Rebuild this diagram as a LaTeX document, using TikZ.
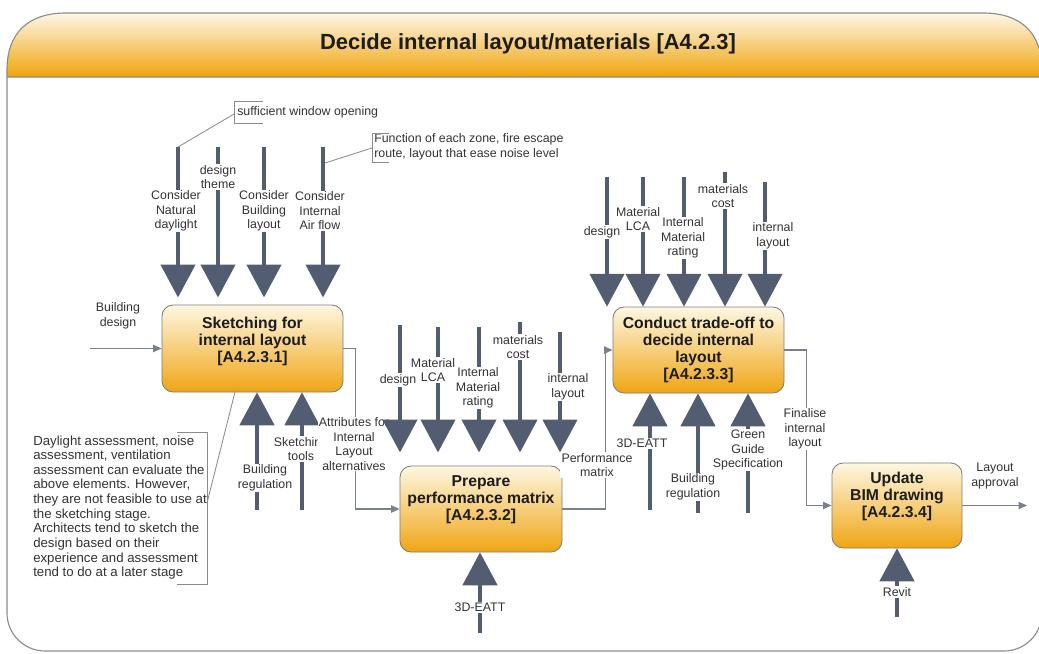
\documentclass[tikz,border=0pt]{standalone}
\usepackage{fontspec}
\setmainfont{Liberation Sans}
\usetikzlibrary{arrows.meta}

\definecolor{hdtop}{HTML}{FDF7E8}
\definecolor{hdbot}{HTML}{EFA40A}
\definecolor{boxtop}{HTML}{FEF7E2}
\definecolor{boxbot}{HTML}{EFA514}
\definecolor{boxline}{HTML}{7E7E7E}
\definecolor{framecol}{HTML}{8C8C8C}
\definecolor{icomcol}{HTML}{535D71}
\definecolor{wirecol}{HTML}{7A808E}
\definecolor{lbltext}{HTML}{333333}
\definecolor{boxtext}{HTML}{1C1C1C}

\newcommand{\lblfont}{\fontsize{8.8}{10.3}\selectfont}
\newcommand{\notefont}{\fontsize{9.4}{10.4}\selectfont}
\newcommand{\actfont}{\fontsize{11.2}{12.1}\selectfont\bfseries}
\newcommand{\ttlfont}{\fontsize{15.6}{18}\selectfont\bfseries}

\tikzset{
  frameline/.style={draw=framecol, line width=0.8pt},
  activity/.style={draw=boxline, line width=0.6pt, rounded corners=0.28cm,
    top color=boxtop, bottom color=boxbot, font=\actfont, text=boxtext,
    align=center, inner sep=0pt},
  icom/.style={draw=icomcol, line width=2.8pt,
    -{Triangle[width=0.88cm,length=0.82cm,line width=0pt]}},
  wire/.style={draw=wirecol, line width=0.8pt,
    -{Triangle[width=0.19cm,length=0.21cm,line width=0pt]}},
  lbl/.style={font=\lblfont, text=lbltext, align=center, fill=white, inner sep=0.8pt},
  callout/.style={draw=framecol, line width=0.6pt},
  notetext/.style={font=\notefont, text=lbltext, align=left, inner sep=0pt, anchor=west}
}

\begin{document}
\begin{tikzpicture}[x=0.025cm, y=-0.025cm]
  \useasboundingbox (0,0) rectangle (1039,653);

  % Frame and header
  \shadedraw[top color=hdtop, bottom color=hdbot, draw=framecol, line width=0.8pt]
    (7,77) -- (7,70) .. controls (7,33) and (28,13) .. (66,13) -- (983,13)
    .. controls (1021,13) and (1042,33) .. (1042,70) -- (1042,77) -- cycle;
  \draw[frameline, rounded corners=0.95cm] (7,77) -- (7,651) -- (1042,651) -- (1042,77);
  \node[font=\ttlfont, text=boxtext] (title) at (528,44) {Decide internal layout/materials [A4.2.3]};

  % Activities
  \node[activity, minimum width=4.525cm, minimum height=2.175cm] (a1) at (252.5,348.5)
    {Sketching for\\internal layout\\{[A4.2.3.1]}\\[0pt]\mbox{}};
  \node[activity, minimum width=4.05cm, minimum height=2.15cm] (a2) at (481,509)
    {Prepare\\performance matrix\\{[A4.2.3.2]}\\[3pt]\mbox{}};
  \node[activity, minimum width=4.275cm, minimum height=2.15cm] (a3) at (698.5,350)
    {Conduct trade-off to\\decide internal\\layout\\{[A4.2.3.3]}};
  \node[activity, minimum width=3.25cm, minimum height=2.125cm] (a4) at (897,505.5)
    {Update\\BIM drawing\\{[A4.2.3.4]}\\[3pt]\mbox{}};

  % Inputs and outputs
  \coordinate (bdin) at (90,348.5);
  \coordinate (laout) at (1027,505.5);
  \draw[wire] (bdin) -- (a1.west);
  \draw[wire] (a1.east) -- ++(12,0) |- (a2.west);
  \draw[wire] (a2.east) -- ++(43,0) |- (a3.west);
  \draw[wire] (a3.east) -- ++(22,0) |- (a4.west);
  \draw[wire] (a4.east) -- (laout);

  % Controls and mechanisms of A1, A3, A4
  \foreach \n/\x/\t in {1/178/147,2/218/147,3/264/147,4/323/147}{
    \coordinate (a1c\n) at (\x,\t);
    \draw[icom, shorten >=0.18cm] (a1c\n) -- (a1c\n |- a1.north);
  }
  \foreach \n/\x/\t in {1/257/510,2/302/510}{
    \coordinate (a1m\n) at (\x,\t);
    \draw[icom] (a1m\n) -- (a1m\n |- a1.south);
  }
  \foreach \n/\x/\t in {1/607/177,2/643/177,3/684/177,4/725/172,5/765/182}{
    \coordinate (a3c\n) at (\x,\t);
    \draw[icom] (a3c\n) -- (a3c\n |- a3.north);
  }
  \foreach \n/\x/\t in {1/650/510,2/698/513,3/748/513}{
    \coordinate (a3m\n) at (\x,\t);
    \draw[icom] (a3m\n) -- (a3m\n |- a3.south);
  }
  \coordinate (a4m1) at (897,617);
  \draw[icom] (a4m1) -- (a4m1 |- a4.south);

  % Labels
  \node[lbl] (lbd) at (118,316) {Building\\design};
  \node[lbl] (l11) at (176,211) {Consider\\Natural\\daylight};
  \node[lbl] (l12) at (218,177) {design\\theme};
  \node[lbl] (l13) at (264,211) {Consider\\Building\\layout};
  \node[lbl] (l14) at (320,211) {Consider\\Internal\\Air flow};
  \node[lbl] (lm11) at (265,478) {Building\\regulation};
  \node[lbl] (lm12) at (301,449) {Sketching\\tools};
  \node[lbl] (lattr) at (354,444) {Attributes for\\Internal\\Layout\\alternatives};
  \node[lbl] (lperf) at (597,465) {Performance\\matrix};
  \node[lbl] (l32) at (638,219) {Material\\LCA};
  \node[lbl] (l31) at (602,232) {design};
  \node[lbl] (l33) at (683,238) {Internal\\Material\\rating};
  \node[lbl] (l34) at (723,196) {materials\\cost};
  \node[lbl] (l35) at (773,236) {internal\\layout};
  \node[lbl] (lm31) at (642,443) {3D-EATT};
  \node[lbl] (lm32) at (693,487) {Building\\regulation};
  \node[lbl] (lm33) at (748,450) {Green\\Guide\\Specification};
  \node[lbl] (lfin) at (805,429) {Finalise\\internal\\layout};
  \node[lbl] (lla) at (995,476) {Layout\\approval};
  \node[lbl] (lm41) at (897,592) {Revit};

  % Controls and mechanism of A2
  \foreach \n/\x/\t in {1/400/325,2/438/327,3/479/327,4/520/322,5/560/332}{
    \coordinate (a2c\n) at (\x,\t);
    \draw[icom, shorten >=0.33cm] (a2c\n) -- (a2c\n |- a2.north);
  }
  \coordinate (a2m1) at (480,633);
  \draw[icom] (a2m1) -- (a2m1 |- a2.south);
  \node[lbl] (l22) at (433,370) {Material\\LCA};
  \node[lbl] (l21) at (398,380) {design};
  \node[lbl] (l23) at (478,388) {Internal\\Material\\rating};
  \node[lbl] (l24) at (518,347) {materials\\cost};
  \node[lbl] (l25) at (568,387) {internal\\layout};
  \node[lbl] (lm21) at (480,607) {3D-EATT};

  % Callouts
  \node[lbl, fill=none, anchor=west, inner sep=0pt] (cwin) at (237,112) {sufficient window opening};
  \draw[callout] (263,101) -- (234,101) -- (234,123) -- (263,123);
  \coordinate (cwinx) at (234,114);
  \draw[callout] (cwinx) -- (a1c1);

  \node[lbl, fill=none, anchor=west, inner sep=0pt, align=left] (cfun) at (374,147)
    {Function of each zone, fire escape\\route, layout that ease noise level};
  \draw[callout] (389,133) -- (372,133) -- (372,162) -- (389,162);
  \coordinate (cfunx) at (372,148);
  \coordinate (cfuny) at (325,163);
  \draw[callout] (cfunx) -- (cfuny);

  \node[notetext] (note) at (33,507.5) {Daylight assessment, noise\\assessment, ventilation\\assessment can evaluate the\\above elements. However,\\they are not feasible to use at\\the sketching stage.\\Architects tend to sketch the\\design based on their\\experience and assessment\\tend to do at a later stage};
  \draw[callout] (177,432) -- (207,432) -- (207,584) -- (177,584);
  \coordinate (notex) at (207,503);
  \coordinate (a1x) at (235,392);
  \draw[callout] (notex) -- (a1x);

\end{tikzpicture}
\end{document}
